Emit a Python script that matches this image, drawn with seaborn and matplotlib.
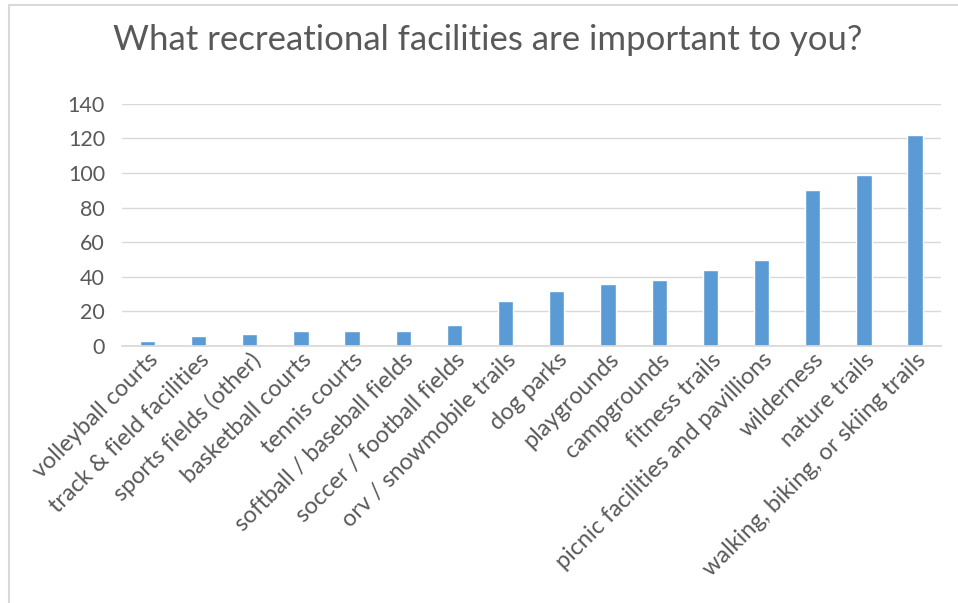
import matplotlib
matplotlib.use("Agg")
import matplotlib.pyplot as plt
from matplotlib.lines import Line2D
import seaborn as sns
import pandas as pd

# Survey responses per facility type
facilities = [
    "volleyball courts", "track & field facilities", "sports fields (other)",
    "basketball courts", "tennis courts", "softball / baseball fields",
    "soccer / football fields", "orv / snowmobile trails", "dog parks",
    "playgrounds", "campgrounds", "fitness trails",
    "picnic facilities and pavillions", "wilderness", "nature trails",
    "walking, biking, or skiing trails",
]
responses = [3, 6, 7, 9, 9, 9, 12, 26, 32, 36, 38, 44, 50, 90, 99, 122]
y_ticks = [0, 20, 40, 60, 80, 100, 120, 140]

df = pd.DataFrame({"facility": facilities, "responses": responses})

sns.set_theme(style="white")
plt.rcParams["font.family"] = ["Lato", "DejaVu Sans"]

fig = plt.figure(figsize=(9.58, 6.03), dpi=100)
ax = fig.add_axes([0.127, 0.426, 0.855, 0.402])

sns.barplot(data=df, x="facility", y="responses", color="#5b9bd5",
            width=0.3, saturation=1, ax=ax)

ax.set_ylim(0, 140)
ax.set_yticks(y_ticks)
ax.yaxis.grid(True, color="#d9d9d9", linewidth=1)
ax.set_axisbelow(True)
for s in ["top", "right", "left"]:
    ax.spines[s].set_visible(False)
ax.spines["bottom"].set_color("#d9d9d9")
ax.set_xlim(-0.5, len(facilities) - 0.5)
ax.set_xlabel("")
ax.set_ylabel("")
ax.tick_params(axis="y", colors="#595959", labelsize=15.5, length=0, pad=12)
ax.tick_params(axis="x", colors="#595959", labelsize=16.8, length=0, pad=2)
plt.setp(ax.get_xticklabels(), rotation=45, ha="right", rotation_mode="anchor")

fig.suptitle("What recreational facilities are important to you?",
             x=0.509, y=0.96, fontsize=25, color="#595959")

# chart frame (left and top edges visible in the crop)
fig.add_artist(Line2D([0.009, 0.009], [0.0, 0.991], transform=fig.transFigure,
                      color="#d9d9d9", linewidth=1.5))
fig.add_artist(Line2D([0.009, 1.0], [0.991, 0.991], transform=fig.transFigure,
                      color="#d9d9d9", linewidth=1.5))

fig.savefig("out.png", dpi=100)
